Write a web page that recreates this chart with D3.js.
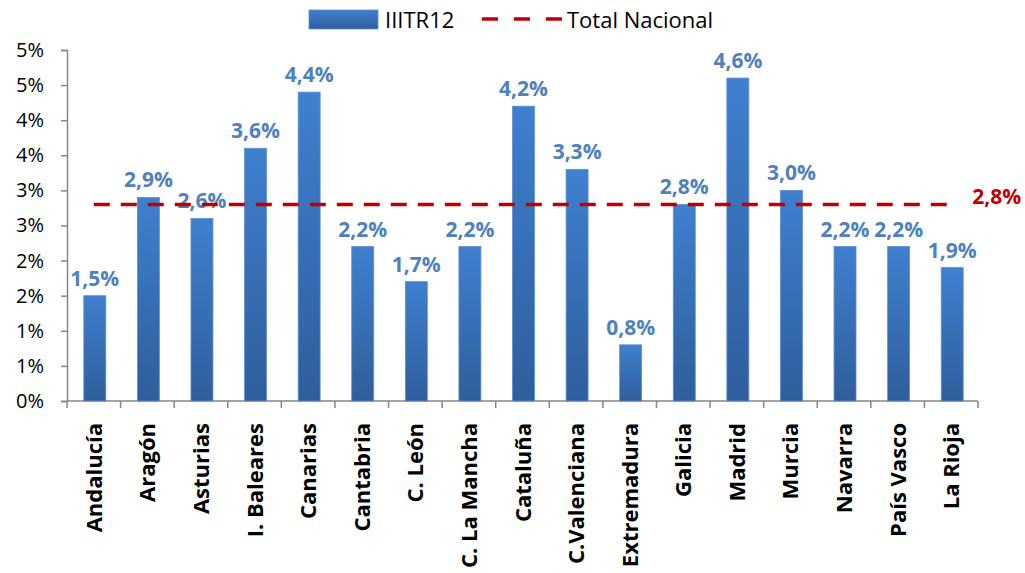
<!DOCTYPE html>
<html>
<head>
<meta charset="utf-8">
<script src="https://cdn.jsdelivr.net/npm/d3@7"></script>
<style>
  body { margin: 0; background: #fff; }
  text { font-family: "Open Sans", sans-serif; }
</style>
</head>
<body>
<svg id="chart"></svg>
<script>
// data
const regions = ["Andalucía", "Aragón", "Asturias", "I. Baleares", "Canarias", "Cantabria",
  "C. León", "C. La Mancha", "Cataluña", "C.Valenciana", "Extremadura", "Galicia",
  "Madrid", "Murcia", "Navarra", "País Vasco", "La Rioja"];
const iiitr12 = [1.5, 2.9, 2.6, 3.6, 4.4, 2.2, 1.7, 2.2, 4.2, 3.3, 0.8, 2.8, 4.6, 3.0, 2.2, 2.2, 1.9];
const totalNacional = 2.8;
const yTicks = [0, 0.5, 1, 1.5, 2, 2.5, 3, 3.5, 4, 4.5, 5];
const seriesNames = ["IIITR12", "Total Nacional"];

const width = 1025, height = 573;
const margin = { top: 50, right: 47, bottom: 172, left: 67 };

const svg = d3.select("#chart")
  .attr("width", width)
  .attr("height", height);

const defs = svg.append("defs");
const grad = defs.append("linearGradient")
  .attr("id", "barGrad")
  .attr("x1", 0).attr("y1", 0).attr("x2", 0).attr("y2", 1);
grad.append("stop").attr("offset", "0%").attr("stop-color", "#3f80cf");
grad.append("stop").attr("offset", "100%").attr("stop-color", "#2f5e9c");

const x = d3.scaleBand()
  .domain(regions)
  .range([margin.left, width - margin.right])
  .paddingInner(0.59)
  .paddingOuter(0.295);

const y = d3.scaleLinear()
  .domain([0, 5])
  .range([height - margin.bottom, margin.top]);

const fmt = v => d3.format(".1f")(v).replace(".", ",") + "%";

/* ---- axes ---- */
const yAxis = svg.append("g")
  .attr("transform", `translate(${margin.left},0)`)
  .call(d3.axisLeft(y).tickValues(yTicks).tickSize(6).tickPadding(17)
    .tickFormat(d => d3.format(".0f")(d) + "%"));
yAxis.select(".domain").attr("stroke", "#868686").attr("stroke-width", 1.5);
yAxis.selectAll(".tick line").attr("stroke", "#868686").attr("stroke-width", 1.5);
yAxis.selectAll(".tick text")
  .attr("font-size", 20)
  .attr("fill", "#000")
  .attr("font-family", "Open Sans, sans-serif");

const xAxis = svg.append("g")
  .attr("transform", `translate(0,${height - margin.bottom})`);
xAxis.append("line")
  .attr("x1", margin.left).attr("x2", width - margin.right)
  .attr("stroke", "#868686").attr("stroke-width", 1.5);
xAxis.selectAll("line.sep")
  .data(d3.range(regions.length + 1))
  .enter()
  .append("line")
  .attr("class", "sep")
  .attr("x1", i => margin.left + i * (width - margin.left - margin.right) / regions.length)
  .attr("x2", i => margin.left + i * (width - margin.left - margin.right) / regions.length)
  .attr("y1", 0).attr("y2", 7)
  .attr("stroke", "#868686").attr("stroke-width", 1.5);

xAxis.selectAll("text.cat")
  .data(regions)
  .enter()
  .append("text")
  .attr("class", "cat")
  .attr("transform", d => `translate(${x(d) + x.bandwidth() / 2 + 8},22) rotate(-90)`)
  .attr("text-anchor", "end")
  .attr("font-size", 22)
  .attr("font-weight", "bold")
  .attr("fill", "#000")
  .text(d => d);

/* ---- bars ---- */
svg.selectAll("rect.bar")
  .data(iiitr12)
  .enter()
  .append("rect")
  .attr("class", "bar")
  .attr("x", (d, i) => x(regions[i]) + 1)
  .attr("y", d => y(d))
  .attr("width", x.bandwidth())
  .attr("height", d => y(0) - y(d))
  .attr("fill", "url(#barGrad)")
  .attr("stroke", "#5b8fd0")
  .attr("stroke-width", 0.8);

svg.selectAll("text.val")
  .data(iiitr12)
  .enter()
  .append("text")
  .attr("class", "val")
  .attr("x", (d, i) => x(regions[i]) + x.bandwidth() / 2 + 1)
  .attr("y", d => y(d) - 10)
  .attr("text-anchor", "middle")
  .attr("font-size", 21)
  .attr("font-weight", "bold")
  .attr("fill", "#4f81bd")
  .text(d => fmt(d));

/* ---- total nacional line ---- */
const lineX1 = x(regions[0]) + x.bandwidth() / 2;
const lineX2 = x(regions[regions.length - 1]) + x.bandwidth() / 2;
svg.append("line")
  .attr("x1", lineX1).attr("x2", lineX2)
  .attr("y1", y(totalNacional)).attr("y2", y(totalNacional))
  .attr("stroke", "#c00000")
  .attr("stroke-width", 3.5)
  .attr("stroke-dasharray", "16,11");

svg.append("text")
  .attr("x", lineX2 + 21)
  .attr("y", y(totalNacional))
  .attr("font-size", 21)
  .attr("font-weight", "bold")
  .attr("fill", "#c00000")
  .text(fmt(totalNacional));

/* ---- legend ---- */
const legend = svg.append("g");
legend.append("rect")
  .attr("x", 309).attr("y", 10)
  .attr("width", 69).attr("height", 19)
  .attr("fill", "url(#barGrad)")
  .attr("stroke", "#5b8fd0")
  .attr("stroke-width", 0.8);
legend.append("text")
  .attr("x", 385).attr("y", 28)
  .attr("font-size", 22)
  .attr("fill", "#000")
  .text(seriesNames[0]);
legend.append("line")
  .attr("x1", 482).attr("x2", 563)
  .attr("y1", 19).attr("y2", 19)
  .attr("stroke", "#c00000")
  .attr("stroke-width", 3.5)
  .attr("stroke-dasharray", "16,16");
legend.append("text")
  .attr("x", 567).attr("y", 28)
  .attr("font-size", 22)
  .attr("fill", "#000")
  .text(seriesNames[1]);
</script>
</body>
</html>
